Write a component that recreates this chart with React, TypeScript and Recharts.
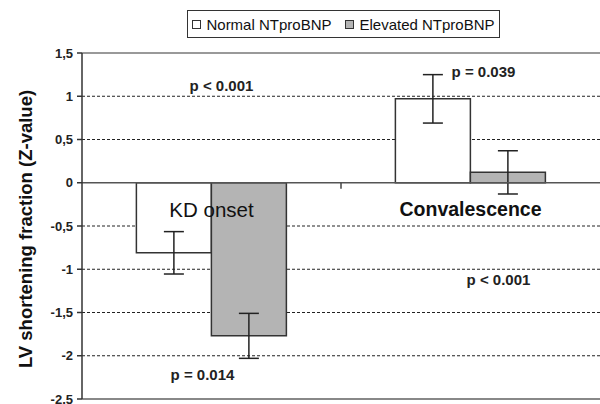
import {
  BarChart,
  Bar,
  XAxis,
  YAxis,
  CartesianGrid,
  ErrorBar,
  Legend,
  ReferenceLine,
  ReferenceDot,
  Label,
} from 'recharts'

const categories = ['KD onset', 'Convalescence']
const normalValues = [-0.81, 0.97]
const normalErrors = [0.245, 0.28]
const elevatedValues = [-1.77, 0.12]
const elevatedErrors = [0.26, 0.25]
const seriesNames = ['Normal NTproBNP', 'Elevated NTproBNP']
const yTicks = [1.5, 1, 0.5, 0, -0.5, -1, -1.5, -2, -2.5]
const gridValues = [1, 0.5, -0.5, -1, -1.5, -2]

// p-value annotations, anchored to a category and a y value
const pTexts = ['p < 0.001', 'p = 0.039', 'p < 0.001', 'p = 0.014']
const pCategories = ['KD onset', 'Convalescence', 'Convalescence', 'KD onset']
const pYs = [1.12, 1.28, -1.12, -2.22]
const pShift = [10, 13, 28, -9]

const categoryLabelY = -0.31

const FONT = '"Liberation Sans", Arial, Helvetica, sans-serif'
const colors = ['#ffffff', '#b4b4b4']

const data = categories.map((c, i) => ({
  name: c,
  normal: normalValues[i],
  normalErr: normalErrors[i],
  elevated: elevatedValues[i],
  elevatedErr: elevatedErrors[i],
}))

function LegendBox() {
  return (
    <div
      style={{
        border: '1.5px solid #333',
        background: '#fff',
        height: 28,
        display: 'flex',
        alignItems: 'center',
        justifyContent: 'center',
        gap: 14,
        fontFamily: FONT,
        fontSize: 15,
        color: '#111',
        boxSizing: 'border-box',
      }}
    >
      {seriesNames.map((n, i) => (
        <span key={n} style={{ display: 'flex', alignItems: 'center' }}>
          <span
            style={{
              display: 'inline-block',
              width: 7,
              height: 7,
              border: '1.5px solid #333',
              background: colors[i],
              marginRight: 5,
            }}
          />
          {n}
        </span>
      ))}
    </div>
  )
}

function ZeroTick(props: any) {
  const vb = props.viewBox
  if (!vb) return null
  const x = vb.x + vb.width / 2
  return <line x1={x} x2={x} y1={vb.y} y2={vb.y + 6} stroke="#444" strokeWidth={1.5} />
}

export default function App() {
  return (
    <div style={{ position: 'absolute', left: 0, top: 0, background: '#fff' }}>
      <BarChart
        width={600}
        height={404}
        data={data}
        margin={{ top: 53, right: 0, left: 0, bottom: 5 }}
        barCategoryGap="21%"
        barGap={0}
      >
        <CartesianGrid
          horizontal
          vertical={false}
          horizontalValues={gridValues}
          stroke="#222"
          strokeDasharray="3 2"
        />
        <XAxis dataKey="name" hide />
        <YAxis
          domain={[-2.5, 1.5]}
          ticks={yTicks}
          width={82}
          interval={0}
          stroke="#333"
          strokeWidth={1.5}
          tickSize={5}
          tickMargin={4}
          tick={{ fontSize: 13, fontWeight: 'bold', fill: '#222', fontFamily: FONT }}
          tickFormatter={(v) => String(v).replace('.', ',')}
        >
          <Label
            value="LV shortening fraction (Z-value)"
            angle={-90}
            position="center"
            dx={-16}
            dy={3}
            style={{ fontSize: 18.5, fontWeight: 'bold', fill: '#111', fontFamily: FONT }}
          />
        </YAxis>
        <Legend
          verticalAlign="middle"
          align="center"
          layout="horizontal"
          content={<LegendBox />}
          wrapperStyle={{ top: 10, left: 187, width: 313 }}
        />
        <Bar
          dataKey="normal"
          name={seriesNames[0]}
          fill={colors[0]}
          stroke="#333"
          strokeWidth={1.5}
          isAnimationActive={false}
        >
          <ErrorBar dataKey="normalErr" width={10} stroke="#222" strokeWidth={1.5} />
        </Bar>
        <Bar
          dataKey="elevated"
          name={seriesNames[1]}
          fill={colors[1]}
          stroke="#333"
          strokeWidth={1.5}
          isAnimationActive={false}
        >
          <ErrorBar dataKey="elevatedErr" width={10} stroke="#222" strokeWidth={1.5} />
        </Bar>
        <ReferenceLine y={1.5} stroke="#777" strokeWidth={1.5} />
        <ReferenceLine y={-2.5} stroke="#888" strokeWidth={2} />
        <ReferenceLine y={0} stroke="#555" strokeWidth={1.5} label={<ZeroTick />} />
        {categories.map((c, i) => (
          <ReferenceDot
            key={c}
            x={c}
            y={categoryLabelY}
            r={0}
            stroke="none"
            label={{
              value: c,
              position: 'center',
              fontSize: i === 0 ? 20.5 : 19.5,
              fontWeight: i === 0 ? 'normal' : 'bold',
              fill: '#111',
              fontFamily: FONT,
            }}
          />
        ))}
        {pTexts.map((t, i) => (
          <ReferenceDot
            key={i}
            x={pCategories[i]}
            y={pYs[i]}
            r={0}
            stroke="none"
            label={{
              value: t,
              position: 'center',
              dx: pShift[i],
              fontSize: 15,
              fontWeight: 'bold',
              fill: '#222',
              fontFamily: FONT,
            }}
          />
        ))}
      </BarChart>
    </div>
  )
}
